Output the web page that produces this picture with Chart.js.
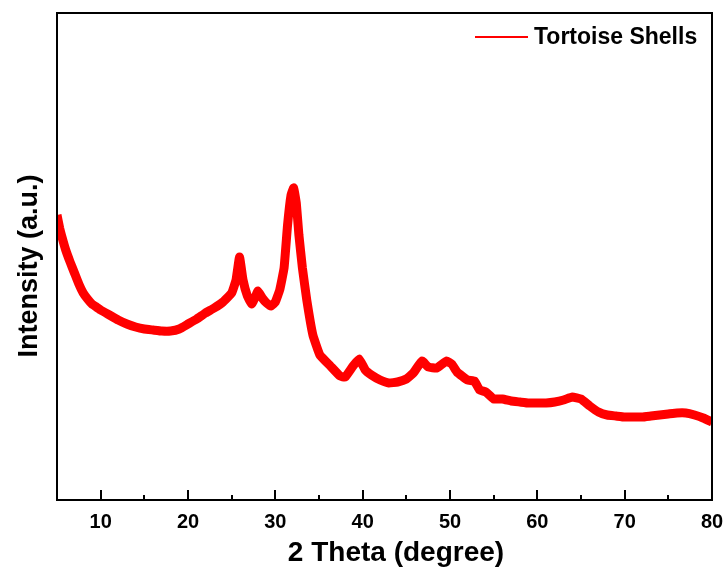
<!DOCTYPE html>
<html>
<head>
<meta charset="utf-8">
<script src="https://cdn.jsdelivr.net/npm/chart.js@4.4.0/dist/chart.umd.min.js"></script>
<style>
  html, body { margin: 0; padding: 0; background: #fff; }
  #wrap { width: 728px; height: 574px; }
</style>
</head>
<body>
<div id="wrap"><canvas id="xrdChart" width="728" height="574"></canvas></div>
<script>
// 2 Theta positions (degree)
const twoTheta = [
  5.0, 5.3, 5.6, 6.0, 6.5, 7.0, 7.5, 8.0, 8.5, 9.0, 9.5, 10.0, 11.0, 12.0, 13.0, 14.0,
  15.0, 16.0, 17.0, 18.0, 19.0, 20.0, 21.0, 22.0, 23.0, 24.0, 25.0, 25.5, 25.9, 26.3,
  26.8, 27.3, 27.7, 28.0, 28.5, 29.0, 29.5, 30.0, 30.5, 31.0, 31.4, 31.8, 32.1, 32.4,
  32.7, 33.1, 33.6, 34.3, 35.1, 36.3, 37.4, 38.0, 38.9, 39.6, 40.3, 41.0, 42.0, 43.0,
  44.0, 45.0, 45.8, 46.8, 47.5, 48.5, 49.6, 50.2, 50.8, 52.0, 52.8, 53.4, 54.1, 55.0,
  56.0, 57.0, 58.0, 59.0, 60.0, 61.0, 62.0, 63.0, 64.0, 65.0, 66.0, 67.0, 68.0, 69.0,
  70.0, 71.0, 72.0, 73.0, 74.0, 75.0, 76.0, 77.0, 78.0, 79.0, 80.0
];

// Intensity (a.u.)
const intensity = [
  285, 272, 262, 250, 238, 227, 216, 207, 201, 196, 193, 190, 185, 180, 176, 173,
  171, 170, 169, 169, 171, 176, 181, 187, 192, 198, 207, 220, 243, 220,
  204, 196, 203, 209, 202, 197, 194, 198, 210, 232, 275, 305, 312, 297,
  265, 232, 200, 165, 145, 134, 124, 123, 134, 141, 130, 125, 120, 117,
  118, 121, 127, 139, 133, 132, 139, 136, 128, 120, 119, 110, 108, 101,
  101, 99, 98, 97, 97, 97, 98, 100, 103, 101, 94, 88, 85, 84,
  83, 83, 83, 84, 85, 86, 87, 87, 85, 82, 78
];

const xTickValues = [10, 20, 30, 40, 50, 60, 70, 80];
const xMinorTicks = [15, 25, 35, 45, 55, 65, 75];

const seriesLabel = 'Tortoise Shells';
const lineColor = '#ff0000';
const fontFamily = '"Liberation Sans", Arial, sans-serif';

// frame, inward ticks, axis titles and the legend
const framePlugin = {
  id: 'frame',
  afterDraw(chart) {
    const { ctx, chartArea: a, scales: { x } } = chart;
    ctx.save();
    ctx.strokeStyle = '#000';
    ctx.lineWidth = 2;
    ctx.strokeRect(a.left, a.top, a.right - a.left, a.bottom - a.top);

    // ticks point into the plot
    ctx.beginPath();
    xTickValues.forEach(v => {
      const px = Math.round(x.getPixelForValue(v));
      ctx.moveTo(px, a.bottom);
      ctx.lineTo(px, a.bottom - 10);
    });
    xMinorTicks.forEach(v => {
      const px = Math.round(x.getPixelForValue(v));
      ctx.moveTo(px, a.bottom);
      ctx.lineTo(px, a.bottom - 5);
    });
    ctx.stroke();

    ctx.fillStyle = '#000';
    ctx.textAlign = 'center';
    ctx.textBaseline = 'middle';
    ctx.font = 'bold 28px ' + fontFamily;
    ctx.fillText('2 Theta (degree)', 396, 553);

    ctx.save();
    ctx.translate(30, 266);
    ctx.rotate(-Math.PI / 2);
    ctx.font = 'bold 27px ' + fontFamily;
    ctx.fillText('Intensity (a.u.)', 0, 0);
    ctx.restore();

    // legend
    ctx.strokeStyle = lineColor;
    ctx.lineWidth = 2;
    ctx.beginPath();
    ctx.moveTo(475, 37);
    ctx.lineTo(528, 37);
    ctx.stroke();
    ctx.textAlign = 'left';
    ctx.font = 'bold 23px ' + fontFamily;
    ctx.fillText(seriesLabel, 534, 38);
    ctx.restore();
  }
};

const ctx = document.getElementById('xrdChart').getContext('2d');
new Chart(ctx, {
  type: 'line',
  data: {
    datasets: [{
      label: seriesLabel,
      data: twoTheta.map((t, i) => ({ x: t, y: intensity[i] })),
      borderColor: lineColor,
      backgroundColor: lineColor,
      borderWidth: 9,
      pointRadius: 0,
      tension: 0.1,
      fill: false
    }]
  },
  options: {
    responsive: false,
    animation: false,
    layout: { padding: { left: 0, top: 13, right: 16, bottom: 0 } },
    plugins: {
      legend: { display: false },
      tooltip: { enabled: false }
    },
    scales: {
      x: {
        type: 'linear',
        min: 5,
        max: 80,
        grid: { display: false, drawTicks: false },
        border: { display: false },
        afterBuildTicks: scale => { scale.ticks = xTickValues.map(v => ({ value: v })); },
        afterFit: scale => {
          scale.height = 74;
          scale.paddingLeft = 0;
          scale.paddingRight = 0;
        },
        ticks: {
          padding: 10,
          color: '#000',
          font: { family: fontFamily, size: 20, weight: 'bold' }
        }
      },
      y: {
        min: 0,
        max: 487,
        grid: { display: false, drawTicks: false },
        border: { display: false },
        ticks: { display: false },
        afterFit: scale => { scale.width = 57; }
      }
    }
  },
  plugins: [framePlugin]
});
</script>
</body>
</html>
